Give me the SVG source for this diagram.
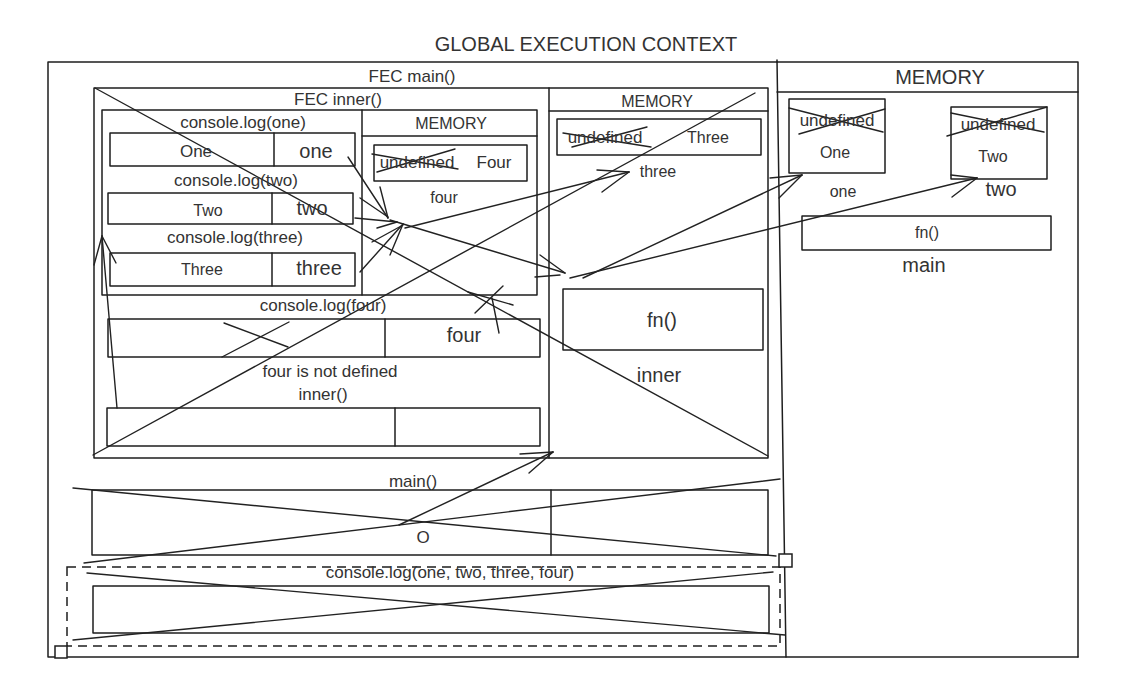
<svg xmlns="http://www.w3.org/2000/svg" width="1138" height="673" viewBox="0 0 1138 673">
<defs>
<style>
.b{fill:none;stroke:#1e1e1e;stroke-width:1.5;stroke-linejoin:round;stroke-linecap:round}
.w{fill:#fff;stroke:#1e1e1e;stroke-width:1.5}
.x{fill:none;stroke:#222;stroke-width:1.4;stroke-linecap:round}
.d{fill:none;stroke:#1e1e1e;stroke-width:1.5;stroke-dasharray:9 6}
text{font-family:"Liberation Sans",Arial,sans-serif;fill:#333;text-anchor:middle}
.t17{font-size:17px}
.t16{font-size:16px}
.t20{font-size:20px}
</style>
</defs>
<rect width="1138" height="673" fill="#fff"/>

<g id="global">
<text x="586" y="51" class="t20">GLOBAL EXECUTION CONTEXT</text>
<polyline class="b" points="777,62 48,62 48,657 1078,657"/>
<line class="b" x1="777" y1="60" x2="786" y2="657"/>
</g>

<g id="global-memory">
<polyline class="b" points="777,62 1078,62 1078,657"/>
<line class="b" x1="777" y1="92" x2="1078" y2="92"/>
<text x="940" y="84" class="t20">MEMORY</text>
</g>

<g id="g-one">
<rect class="b" x="789" y="99" width="96" height="74"/>
<line class="x" x1="789" y1="108" x2="883" y2="132"/>
<line class="x" x1="799" y1="134" x2="885" y2="109"/>
<text x="837" y="126" class="t17">undefined</text>
<text x="835" y="158" class="t16">One</text>
<text x="843" y="197" class="t16">one</text>
</g>

<g id="g-two">
<rect class="b" x="951" y="107" width="96" height="72"/>
<line class="x" x1="951" y1="113" x2="1044" y2="132"/>
<line class="x" x1="947" y1="136" x2="1047" y2="107"/>
<text x="998" y="130" class="t17">undefined</text>
<text x="993" y="162" class="t16">Two</text>
<text x="1001" y="196" class="t20">two</text>
</g>

<g id="g-main">
<rect class="b" x="802" y="216" width="249" height="34"/>
<text x="927" y="238" class="t16">fn()</text>
<text x="924" y="272" class="t20">main</text>
</g>

<g id="fec-main">
<text x="412" y="82" class="t17">FEC main()</text>
<rect class="b" x="94" y="88" width="674" height="370"/>
<line class="b" x1="549" y1="88" x2="549" y2="458"/>
<line class="x" x1="95" y1="88" x2="768" y2="456"/>
<line class="x" x1="93" y1="455" x2="755" y2="93"/>
</g>

<g id="main-memory">
<line class="b" x1="549" y1="111" x2="768" y2="111"/>
<text x="657" y="107" class="t16">MEMORY</text>
<rect class="b" x="557" y="119" width="204" height="36"/>
<line class="x" x1="563" y1="133" x2="651" y2="147"/>
<line class="x" x1="572" y1="147" x2="647" y2="127"/>
<text x="605" y="143" class="t17">undefined</text>
<text x="708" y="143" class="t16">Three</text>
<text x="658" y="177" class="t16">three</text>
</g>

<g id="m-inner">
<rect class="b" x="563" y="289" width="200" height="61"/>
<text x="662" y="327" class="t20">fn()</text>
<text x="659" y="382" class="t20">inner</text>
</g>

<g id="fec-inner">
<text x="338" y="105" class="t17">FEC inner()</text>
<rect class="b" x="102" y="110" width="435" height="185"/>
<line class="b" x1="362" y1="110" x2="362" y2="295"/>
</g>

<g id="inner-memory">
<line class="b" x1="362" y1="136" x2="537" y2="136"/>
<text x="451" y="129" class="t16">MEMORY</text>
<rect class="b" x="374" y="145" width="153" height="36"/>
<line class="x" x1="372" y1="154" x2="458" y2="169"/>
<line class="x" x1="377" y1="172" x2="455" y2="149"/>
<text x="417" y="168" class="t17">undefined</text>
<text x="494" y="168" class="t17">Four</text>
<text x="444" y="203" class="t16">four</text>
</g>

<g id="log-one">
<text x="243" y="128" class="t17">console.log(one)</text>
<rect class="b" x="110" y="133" width="245" height="33"/>
<line class="b" x1="274" y1="133" x2="274" y2="166"/>
<text x="196" y="157" class="t17">One</text>
<text x="316" y="158" class="t20">one</text>
</g>

<g id="log-two">
<text x="236" y="186" class="t17">console.log(two)</text>
<rect class="b" x="108" y="193" width="245" height="31"/>
<line class="b" x1="272" y1="193" x2="272" y2="224"/>
<text x="208" y="216" class="t16">Two</text>
<text x="312" y="215" class="t20">two</text>
</g>

<g id="log-three">
<text x="235" y="243" class="t17">console.log(three)</text>
<rect class="b" x="110" y="253" width="245" height="33"/>
<line class="b" x1="272" y1="253" x2="272" y2="286"/>
<text x="202" y="275" class="t16">Three</text>
<text x="319" y="275" class="t20">three</text>
</g>

<g id="log-four">
<text x="323" y="311" class="t17">console.log(four)</text>
<rect class="b" x="108" y="319" width="432" height="38"/>
<line class="b" x1="385" y1="319" x2="385" y2="357"/>
<line class="x" x1="224" y1="323" x2="288" y2="347"/>
<line class="x" x1="222" y1="357" x2="289" y2="322"/>
<text x="464" y="342" class="t20">four</text>
<text x="330" y="377" class="t17">four is not defined</text>
</g>

<g id="call-inner">
<text x="323" y="400" class="t17">inner()</text>
<rect class="b" x="107" y="408" width="433" height="38"/>
<line class="b" x1="395" y1="408" x2="395" y2="446"/>
</g>

<g id="call-main">
<text x="413" y="487" class="t17">main()</text>
<rect class="b" x="92" y="490" width="676" height="65"/>
<line class="b" x1="551" y1="490" x2="551" y2="555"/>
<line class="x" x1="73" y1="488" x2="776" y2="556"/>
<line class="x" x1="84" y1="563" x2="780" y2="479"/>
<text x="423" y="543" class="t17">O</text>
</g>

<g id="log-all">
<rect class="d" x="67" y="567" width="713" height="79"/>
<rect class="w" x="779" y="554" width="13" height="13"/>
<rect class="w" x="55" y="646" width="12" height="12"/>
<text x="450" y="578" class="t17">console.log(one, two, three, four)</text>
<rect class="b" x="93" y="586" width="676" height="47"/>
<line class="x" x1="87" y1="573" x2="785" y2="635"/>
<line class="x" x1="73" y1="640" x2="773" y2="572"/>
</g>

<g id="connectors" class="x">
<line x1="348" y1="157" x2="388" y2="218"/>
<line x1="380" y1="187" x2="388" y2="218"/>
<line x1="360" y1="198" x2="388" y2="217"/>
<line x1="355" y1="218" x2="397" y2="222"/>
<line x1="377" y1="228" x2="397" y2="222"/>
<line x1="360" y1="272" x2="403" y2="224"/>
<line x1="390" y1="255" x2="403" y2="224"/>
<line x1="372" y1="242" x2="403" y2="225"/>
<line x1="405" y1="228" x2="629" y2="172"/>
<line x1="597" y1="170" x2="629" y2="172"/>
<line x1="602" y1="192" x2="629" y2="172"/>
<line x1="390" y1="220" x2="565" y2="273"/>
<line x1="540" y1="255" x2="565" y2="273"/>
<line x1="535" y1="277" x2="560" y2="275"/>
<line x1="583" y1="278" x2="802" y2="175"/>
<line x1="770" y1="178" x2="802" y2="175"/>
<line x1="779" y1="198" x2="802" y2="175"/>
<line x1="570" y1="278" x2="977" y2="178"/>
<line x1="951" y1="175" x2="977" y2="178"/>
<line x1="952" y1="197" x2="977" y2="178"/>
<line x1="117" y1="408" x2="102" y2="236"/>
<line x1="94" y1="265" x2="102" y2="236"/>
<line x1="116" y1="263" x2="102" y2="236"/>
<line x1="499" y1="333" x2="492" y2="298"/>
<line x1="475" y1="313" x2="503" y2="286"/>
<line x1="468" y1="292" x2="513" y2="305"/>
<line x1="399" y1="525" x2="553" y2="452"/>
<line x1="520" y1="454" x2="553" y2="452"/>
<line x1="529" y1="473" x2="553" y2="452"/>
</g>
</svg>
